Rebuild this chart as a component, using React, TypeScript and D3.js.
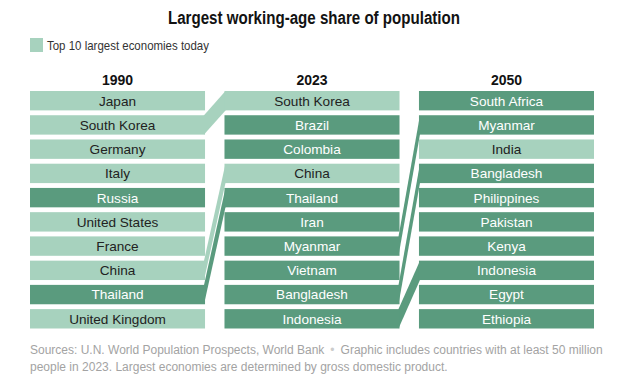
import React from 'react'
import { scaleBand } from 'd3'

const years = ['1990', '2023', '2050']

const ranks1990 = ['Japan', 'South Korea', 'Germany', 'Italy', 'Russia', 'United States', 'France', 'China', 'Thailand', 'United Kingdom']
const ranks2023 = ['South Korea', 'Brazil', 'Colombia', 'China', 'Thailand', 'Iran', 'Myanmar', 'Vietnam', 'Bangladesh', 'Indonesia']
const ranks2050 = ['South Africa', 'Myanmar', 'India', 'Bangladesh', 'Philippines', 'Pakistan', 'Kenya', 'Indonesia', 'Egypt', 'Ethiopia']

// countries drawn in the light colour
const topEconomies = ['Japan', 'South Korea', 'Germany', 'Italy', 'United States', 'France', 'China', 'United Kingdom', 'India']

const columns = [ranks1990, ranks2023, ranks2050]

const width = 624
const height = 390
const light = '#a7d2be'
const dark = '#5a9b7e'
const font = '"Liberation Sans", Arial, sans-serif'

function App() {
  const xScale = scaleBand<string>()
    .domain(years)
    .range([30, 594])
    .paddingInner(0.1)

  const yScale = scaleBand<number>()
    .domain(ranks1990.map((_, i) => i))
    .range([91, 328.5])
    .paddingInner(0.2)

  const bw = yScale.bandwidth()
  const colorOf = (c: string) => (topEconomies.includes(c) ? light : dark)

  // connectors for countries appearing in consecutive columns
  const links: { key: string; pts: [number, number][]; fill: string }[] = []
  columns.slice(0, -1).forEach((col, k) => {
    const next = columns[k + 1]
    col.forEach((c, i) => {
      const j = next.indexOf(c)
      if (j < 0) return
      const x1 = xScale(years[k])! + xScale.bandwidth()
      const x2 = xScale(years[k + 1])!
      const y1 = yScale(i)!
      const y2 = yScale(j)!
      links.push({
        key: years[k] + c,
        pts: [[x1 - 1, y1], [x2 + 1, y2], [x2 + 1, y2 + bw], [x1 - 1, y1 + bw]],
        fill: colorOf(c),
      })
    })
  })

  return (
    <svg width={width} height={height} style={{ position: 'absolute', left: 0, top: 0, background: '#fff' }}>
      <text x={314} y={24} textAnchor="middle" fontFamily={font} fontWeight="bold" fontSize={17.5} fill="#121212"
        textLength={292} lengthAdjust="spacingAndGlyphs">
        Largest working-age share of population
      </text>
      <rect x={30} y={38} width={13} height={14} fill={light} />
      <text x={47} y={50} fontFamily={font} fontSize={13.5} fill="#333" textLength={162} lengthAdjust="spacingAndGlyphs">
        Top 10 largest economies today
      </text>

      {years.map(y => (
        <text key={y} x={xScale(y)! + xScale.bandwidth() / 2} y={85} textAnchor="middle"
          fontFamily={font} fontWeight="bold" fontSize={14} fill="#121212">{y}</text>
      ))}

      {links.map(l => (
        <polygon key={l.key} points={l.pts.map(p => p.join(',')).join(' ')} fill={l.fill} />
      ))}

      {columns.map((col, k) => (
        <g key={years[k]} transform={`translate(${xScale(years[k])},0)`}>
          {col.map((c, i) => (
            <g key={c} transform={`translate(0,${yScale(i)})`}>
              <rect width={xScale.bandwidth()} height={bw} fill={colorOf(c)} />
              <text x={xScale.bandwidth() / 2} y={bw / 2} dy=".36em" textAnchor="middle"
                fontFamily={font} fontSize={13.6} fill={colorOf(c) === light ? '#222' : '#fff'}>{c}</text>
            </g>
          ))}
        </g>
      ))}

      <text fontFamily={font} fontSize={12} fill="#a3a3a3">
        <tspan x={30} y={354}>Sources: U.N. World Population Prospects, World Bank
          <tspan fill="#ccc" dx={6}>•</tspan>
          <tspan dx={6}>Graphic includes countries with at least 50 million</tspan>
        </tspan>
        <tspan x={30} y={371}>people in 2023. Largest economies are determined by gross domestic product.</tspan>
      </text>
    </svg>
  )
}

export default App
